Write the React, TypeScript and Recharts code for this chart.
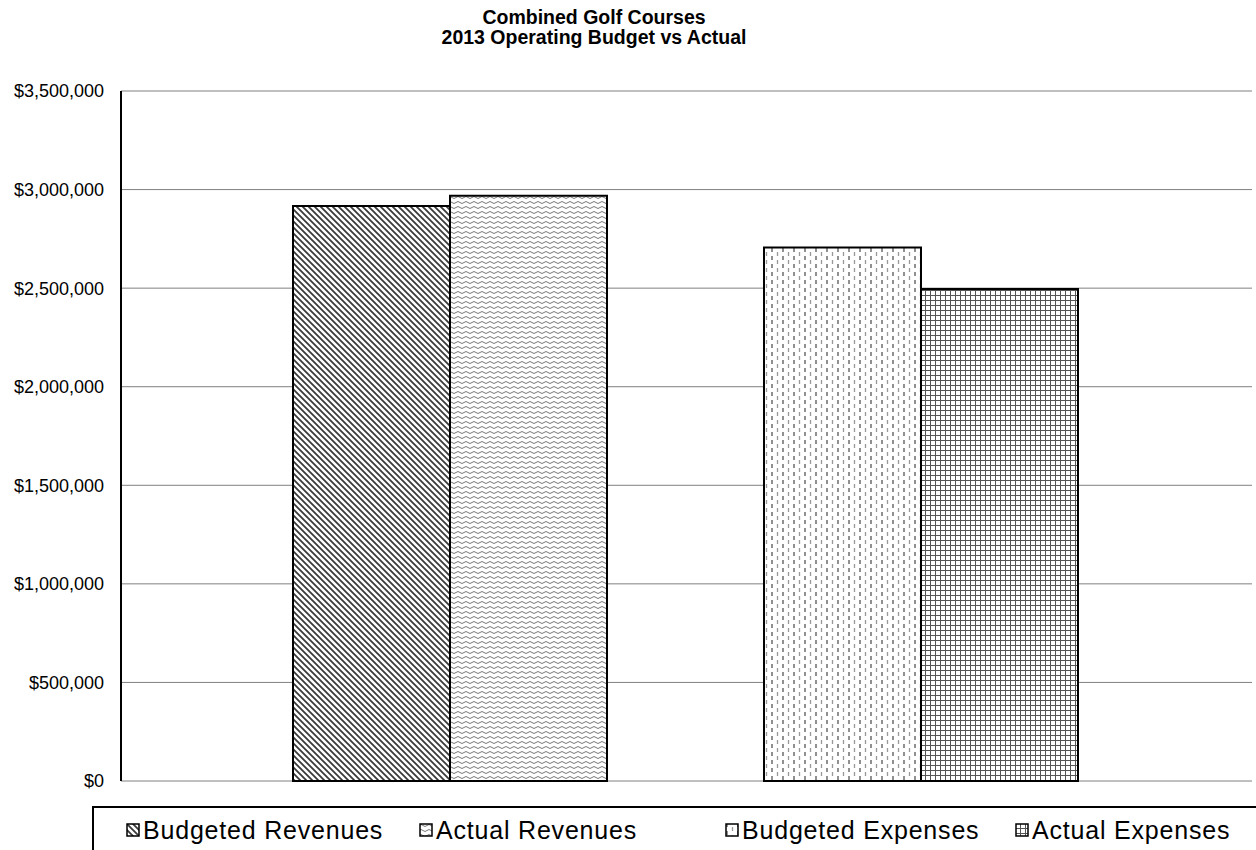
import { BarChart, Bar, XAxis, YAxis, CartesianGrid } from "recharts";

// one category, five series (the middle one is an empty spacer series)
const categories = ["2013"];
const seriesKeys = ["budRev", "actRev", "blank", "budExp", "actExp"];
const seriesNames = ["Budgeted Revenues", "Actual Revenues", "", "Budgeted Expenses", "Actual Expenses"];
const seriesValues = [2917000, 2969000, null, 2706000, 2496000];
const yTicks = [0, 500000, 1000000, 1500000, 2000000, 2500000, 3000000, 3500000];

const patternIds = ["pDiag", "pWave", "", "pDash", "pGrid"];
// legend item offsets inside the legend box (layout only)
const legendLeft = [32, 325, -1, 631, 921];

const data = categories.map((name) => {
  const row: Record<string, any> = { name };
  seriesKeys.forEach((k, i) => (row[k] = seriesValues[i]));
  return row;
});

const FONT = '"Liberation Sans", Arial, sans-serif';

const fmtMoney = (v: number) => "$" + v.toLocaleString("en-US");

function Patterns() {
  return (
    <defs>
      <pattern id="pDiag" width="6" height="6" patternUnits="userSpaceOnUse">
        <rect width="6" height="6" fill="#fff" />
        <path d="M0,0 L6,6 M-1.5,4.5 L1.5,7.5 M4.5,-1.5 L7.5,1.5" stroke="#3a3a3a" strokeWidth="1.8" />
      </pattern>
      <pattern id="pWave" width="8" height="5" patternUnits="userSpaceOnUse">
        <rect width="8" height="5" fill="#fff" />
        <path d="M0,2.5 Q2,0.5 4,2.5 T8,2.5" stroke="#777" strokeWidth="1" fill="none" />
      </pattern>
      <pattern id="pDash" width="11" height="8" patternUnits="userSpaceOnUse">
        <rect width="11" height="8" fill="#fff" />
        <line x1="2" y1="0" x2="2" y2="4" stroke="#555" strokeWidth="1.3" />
        <line x1="7.5" y1="4" x2="7.5" y2="8" stroke="#999" strokeWidth="1.3" />
      </pattern>
      <pattern id="pGrid" width="5" height="5" patternUnits="userSpaceOnUse">
        <rect width="5" height="5" fill="#fff" />
        <path d="M0,0.5 H5 M0.5,0 V5" stroke="#555" strokeWidth="1" />
      </pattern>
    </defs>
  );
}

function ChartLegend() {
  return (
    <div
      style={{
        position: "absolute",
        left: 92,
        top: 806,
        width: 1200,
        height: 80,
        borderTop: "2px solid #000",
        borderLeft: "2px solid #000",
        fontFamily: FONT,
        fontSize: 25,
        letterSpacing: 0.8,
        color: "#000",
      }}
    >
      {seriesNames.map((n, i) =>
        n ? (
          <div
            key={n}
            style={{ position: "absolute", left: legendLeft[i], top: 8, display: "flex", alignItems: "center", whiteSpace: "nowrap" }}
          >
            <svg width={14} height={14} style={{ marginRight: 3 }}>
              <rect x={1} y={1} width={12} height={12} fill={`url(#${patternIds[i]})`} stroke="#000" strokeWidth={1.5} />
            </svg>
            <span style={{ lineHeight: "28px" }}>{n}</span>
          </div>
        ) : null
      )}
    </div>
  );
}

export default function App() {
  return (
    <div style={{ position: "absolute", left: 0, top: 0, width: 1256, height: 850, background: "#fff", overflow: "hidden" }}>
      <div
        style={{
          position: "absolute",
          left: 294,
          top: 7,
          width: 600,
          textAlign: "center",
          fontFamily: FONT,
          fontWeight: "bold",
          fontSize: 19.5,
          lineHeight: "20px",
          color: "#000",
        }}
      >
        Combined Golf Courses
        <br />
        2013 Operating Budget vs Actual
      </div>
      <BarChart
        width={1256}
        height={850}
        data={data}
        margin={{ top: 91, right: 4, bottom: 69, left: 0 }}
        barCategoryGap={172}
        barGap={0}
        style={{ position: "absolute", left: 0, top: 0 }}
      >
        <Patterns />
        <CartesianGrid vertical={false} stroke="#808080" strokeWidth={1} />
        <XAxis dataKey="name" height={0} tick={false} tickLine={false} axisLine={{ stroke: "#000", strokeWidth: 2 }} />
        <XAxis
          xAxisId="top"
          orientation="top"
          dataKey="name"
          height={0}
          tick={false}
          tickLine={false}
          axisLine={{ stroke: "#333", strokeWidth: 2 }}
        />
        <YAxis
          width={121}
          domain={[0, 3500000]}
          ticks={yTicks}
          tickFormatter={fmtMoney}
          tickLine={false}
          tickSize={7}
          tickMargin={10}
          axisLine={{ stroke: "#000", strokeWidth: 2 }}
          tick={{ fill: "#000", fontSize: 18, fontFamily: FONT }}
          interval={0}
        />
        <YAxis
          yAxisId="right"
          orientation="right"
          width={0}
          domain={[0, 1]}
          tick={false}
          tickLine={false}
          axisLine={{ stroke: "#000", strokeWidth: 3 }}
        />
        {seriesKeys.map((k, i) => (
          <Bar
            key={k}
            dataKey={k}
            name={seriesNames[i]}
            fill={patternIds[i] ? `url(#${patternIds[i]})` : "none"}
            stroke="#000"
            strokeWidth={2}
            isAnimationActive={false}
          />
        ))}
      </BarChart>
      <ChartLegend />
    </div>
  );
}
